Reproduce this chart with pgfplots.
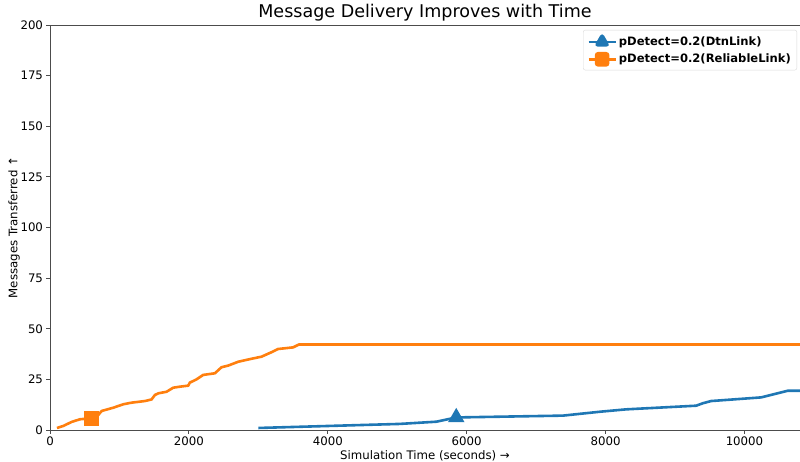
\documentclass[border=0pt]{standalone}
\usepackage{fontspec}
\setmainfont{DejaVu Sans}
\usepackage{pgfplots}
\pgfplotsset{compat=1.18}
\usetikzlibrary{calc}
\definecolor{mplblue}{HTML}{1F77B4}
\definecolor{mplorange}{HTML}{FF7F0E}
\begin{document}
\begin{tikzpicture}[x=1bp,y=1bp]
\begin{axis}[
  name=ax,
  scale only axis,
  width=750bp, height=405bp,
  xmin=0, xmax=10800, ymin=0, ymax=200,
  axis x line*=bottom, axis y line*=left,
  axis line style={black!70, line width=0.8bp, -},
  xtick={0,2000,4000,6000,8000,10000},
  ytick={0,25,50,75,100,125,150,175,200},
  scaled x ticks=false,
  xticklabel style={/pgf/number format/1000 sep=},
  /pgf/number format/assume math mode=true,
  tick label style={font=\fontsize{11.8}{14}\selectfont, black},
  tick align=outside,
  major tick length=3.5bp,
  tick style={black!70, line width=0.8bp},
  title={Message Delivery Improves with Time},
  title style={font=\fontsize{17.6}{20}\selectfont, yshift=-6bp},
  xlabel={Simulation Time (seconds) →},
  ylabel={Messages Transferred ↑},
  label style={font=\fontsize{11.8}{14}\selectfont},
  xlabel style={yshift=2bp},
  ylabel style={yshift=-6bp},
  legend style={at={(0.996,0.988)}, anchor=north east, draw=black!15, rounded corners=2bp,
    font=\fontsize{11.6}{14}\selectfont\bfseries, row sep=3bp, inner xsep=4bp, inner ysep=3.5bp},
  legend cell align=left,
  clip=true,
]
\addplot[mplblue, line width=2.6bp, mark=triangle*, mark size=7bp, mark indices={4}, mark options={solid},
  legend image code/.code={
    \draw[mplblue, line width=2.6bp] (0bp,0bp) -- (27bp,0bp);
    \fill[mplblue] (13.5bp,0bp) ++(90:7bp) -- ++(-120:12.1bp) -- ++(0:12.1bp) -- cycle;
  }] coordinates {
(3000,1) (5036,3) (5564,4.1) (5850,6.2) (7386,7.1) (7914,9) (8297,10.2) (9305,12) (9400,13.2) (9520,14.3) (10240,16.1) (10624,19.4) (10800,19.4)};
\addlegendentry{pDetect=0.2(DtnLink)}
\addplot[mplorange, line width=2.6bp, mark=square*, mark size=6bp, mark indices={5}, mark options={solid},
  legend image code/.code={
    \draw[mplorange, line width=2.6bp] (0bp,0bp) -- (27bp,0bp);
    \fill[mplorange] (7.5bp,-6bp) rectangle (19.5bp,6bp);
  }] coordinates {
(100,1) (192,2) (312,4) (432,5.3) (600,5.8) (695,7.4) (744,9.4) (911,11) (1055,12.7) (1175,13.5) (1367,14.3) (1463,15.1) (1511,17.3) (1559,18.1) (1679,18.9) (1775,20.9) (1871,21.4) (1990,21.9) (2014,23.4) (2110,25) (2206,27.2) (2374,28) (2470,31) (2566,31.8) (2710,33.7) (2878,35) (3045,36.2) (3189,38.4) (3285,40) (3501,40.8) (3583,42.2) (10800,42.2)};
\addlegendentry{pDetect=0.2(ReliableLink)}
\end{axis}
\draw[black!70, line width=0.8bp] (ax.north west) -- (ax.north east);
\pgfresetboundingbox
\path ($(ax.south west)+(-50bp,-32bp)$) rectangle ($(ax.north east)+(0bp,25bp)$);
\end{tikzpicture}
\end{document}
